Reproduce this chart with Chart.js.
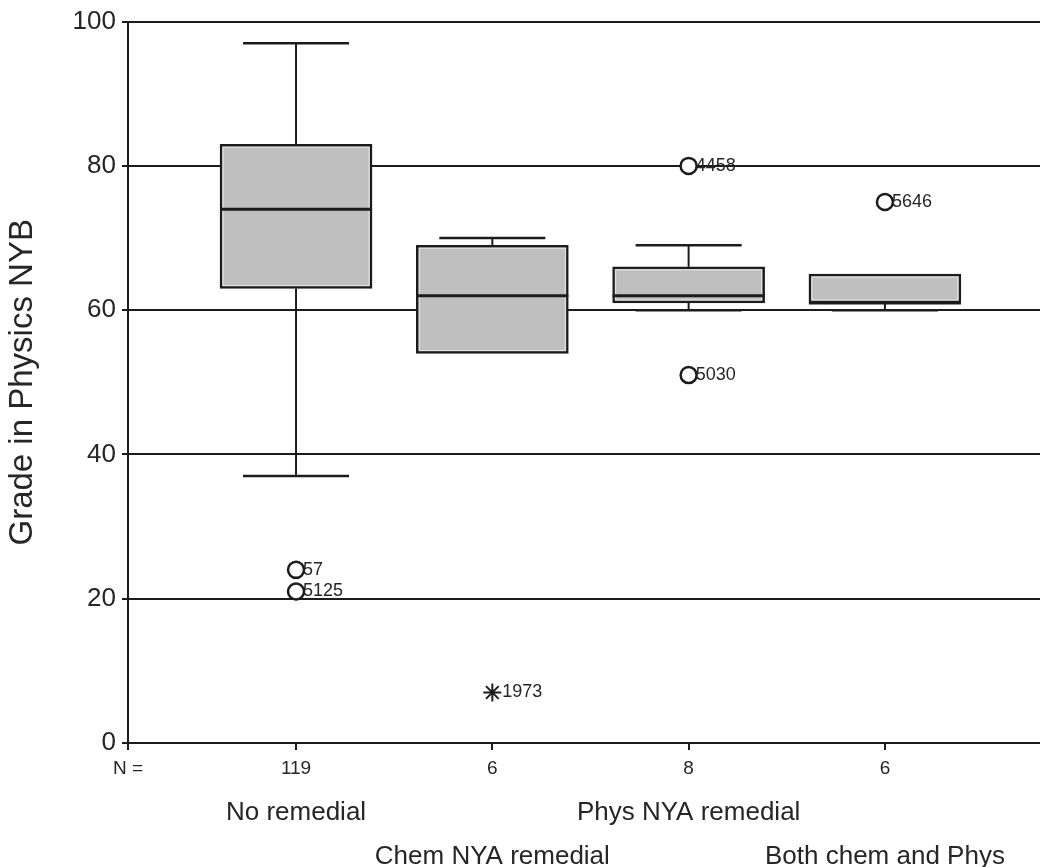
<!DOCTYPE html>
<html>
<head>
<meta charset="utf-8">
<title>Grade in Physics NYB by remedial course</title>
<script src="https://cdn.jsdelivr.net/npm/chart.js@4.4.1/dist/chart.umd.min.js"></script>
<style>
  html, body { margin: 0; padding: 0; background: #ffffff; }
  #wrap { position: relative; width: 1040px; height: 867px; }
</style>
</head>
<body>
<div id="wrap"><canvas id="chart"></canvas></div>
<script>
// ---- data ----
const groups = ['No remedial', 'Chem NYA remedial', 'Phys NYA remedial', 'Both chem and Phys'];
const counts = [119, 6, 8, 6];
const lowWhisker = [37, 54, 60, 60];
const q1 = [63, 54, 61, 61];
const median = [74, 62, 62, 61];
const q3 = [83, 69, 66, 65];
const highWhisker = [97, 70, 69, 65];
// outliers (circles): group number, grade, case id
const outlierGroup = [1, 1, 3, 3, 4];
const outlierValue = [24, 21, 80, 51, 75];
const outlierCase = ['57', '5125', '4458', '5030', '5646'];
// extreme values (asterisks)
const extremeGroup = [2];
const extremeValue = [7];
const extremeCase = ['1973'];
const yTicks = [0, 20, 40, 60, 80, 100];

// ---- look ----
const INK = '#1c1c1c';
const TEXT = '#262626';
const FONT = "'Liberation Sans', Arial, Helvetica, sans-serif";
const X_MIN = 0.144, X_MAX = 4.79;   // category slots on a linear axis
const CAP_HALF = 0.27;               // whisker cap half-width, in slot units

Chart.defaults.font.family = FONT;
Chart.defaults.color = TEXT;

// keep the horizontal axes flush with the canvas edges
const noSidePadding = s => { s.paddingLeft = 0; s.paddingRight = 0; };

// whiskers, medians and case-id labels, placed through the chart's scales
const boxPlotParts = {
  id: 'boxPlotParts',
  beforeDatasetsDraw(chart) {
    const { ctx, scales: { x, y } } = chart;
    ctx.save();
    ctx.fillStyle = TEXT;
    ctx.font = '18px ' + FONT;
    ctx.textAlign = 'left';
    ctx.textBaseline = 'middle';
    outlierCase.forEach((id, i) => {
      ctx.fillText(id, x.getPixelForValue(outlierGroup[i]) + 7, y.getPixelForValue(outlierValue[i]));
    });
    extremeCase.forEach((id, i) => {
      ctx.fillText(id, x.getPixelForValue(extremeGroup[i]) + 10, y.getPixelForValue(extremeValue[i]));
    });
    ctx.restore();
  },
  afterDatasetsDraw(chart) {
    const { ctx, scales: { x, y } } = chart;
    const bars = chart.getDatasetMeta(0).data;
    ctx.save();
    ctx.lineCap = 'butt';
    const seg = (x0, y0, x1, y1, w) => {
      ctx.strokeStyle = INK;
      ctx.lineWidth = w;
      ctx.beginPath(); ctx.moveTo(x0, y0); ctx.lineTo(x1, y1); ctx.stroke();
    };
    groups.forEach((g, i) => {
      const v = i + 1;
      const cx = x.getPixelForValue(v);
      const cl = x.getPixelForValue(v - CAP_HALF);
      const cr = x.getPixelForValue(v + CAP_HALF);
      const yHi = y.getPixelForValue(highWhisker[i]);
      const yLo = y.getPixelForValue(lowWhisker[i]);
      const yQ1 = y.getPixelForValue(q1[i]);
      const yQ3 = y.getPixelForValue(q3[i]);
      const b = bars[i];
      const half = b.width / 2;
      // faint light rim just inside the box outline
      ctx.strokeStyle = '#e6e6e6';
      ctx.lineWidth = 1;
      ctx.strokeRect(b.x - half + 3, yQ3 + 3, b.width - 6, yQ1 - yQ3 - 6);
      if (highWhisker[i] > q3[i]) {
        seg(cx, yQ3, cx, yHi, 2);
        seg(cl, yHi, cr, yHi, 2.5);
      }
      if (lowWhisker[i] < q1[i]) {
        seg(cx, yQ1, cx, yLo, 2);
        seg(cl, yLo, cr, yLo, 2.5);
      }
      const yMed = y.getPixelForValue(median[i]);
      seg(b.x - half, yMed, b.x + half, yMed, 3);
    });
    ctx.restore();
  }
};

new Chart(document.getElementById('chart'), {
  type: 'bar',
  data: {
    datasets: [
      {
        type: 'bar',
        data: groups.map((g, i) => ({ x: i + 1, y: [q1[i], q3[i]] })),
        backgroundColor: '#bfbfbf',
        borderColor: INK,
        borderWidth: 2.5,
        borderSkipped: false,
        barThickness: 152,
        order: 2
      },
      {
        type: 'scatter',
        data: outlierGroup.map((g, i) => ({ x: g, y: outlierValue[i] })),
        pointStyle: 'circle',
        radius: 8,
        borderWidth: 2.5,
        borderColor: INK,
        backgroundColor: '#ffffff',
        order: 1
      },
      {
        type: 'scatter',
        data: extremeGroup.map((g, i) => ({ x: g, y: extremeValue[i] })),
        pointStyle: 'star',
        radius: 9,
        borderWidth: 2,
        borderColor: INK,
        backgroundColor: INK,
        order: 1
      }
    ]
  },
  options: {
    responsive: true,
    maintainAspectRatio: false,
    animation: false,
    devicePixelRatio: 1,
    layout: { autoPadding: false, padding: { top: 20, right: 0, bottom: 0, left: 0 } },
    plugins: {
      legend: { display: false },
      tooltip: { enabled: false }
    },
    scales: {
      x: {
        type: 'linear',
        position: 'bottom',
        min: X_MIN,
        max: X_MAX,
        bounds: 'data',
        offset: false,
        weight: 1,
        afterBuildTicks: s => { s.ticks = [{ value: X_MIN }].concat(counts.map((c, i) => ({ value: i + 1 }))); },
        ticks: {
          autoSkip: false,
          maxRotation: 0,
          padding: 7,
          color: TEXT,
          font: { size: 19 },
          callback: v => (v === X_MIN ? 'N =' : String(counts[v - 1]))
        },
        grid: { drawOnChartArea: false, offset: false, color: INK, lineWidth: 2, tickLength: 7 },
        border: { color: INK, width: 2 },
        afterFit: s => { s.height = 40; noSidePadding(s); }
      },
      names: {
        type: 'linear',
        axis: 'x',
        position: 'bottom',
        min: X_MIN,
        max: X_MAX,
        bounds: 'data',
        offset: false,
        weight: 2,
        afterBuildTicks: s => { s.ticks = groups.map((g, i) => ({ value: i + 1 })); },
        ticks: {
          autoSkip: false,
          maxRotation: 0,
          padding: 0,
          color: TEXT,
          font: { size: 26, lineHeight: 44 / 26 },
          callback: v => (v % 2 === 1 ? [groups[v - 1], ''] : ['', groups[v - 1]])
        },
        grid: { display: false, offset: false },
        border: { display: false },
        afterFit: s => { s.height = 84; noSidePadding(s); }
      },
      y: {
        type: 'linear',
        min: 0,
        max: 100,
        afterBuildTicks: s => { s.ticks = yTicks.map(v => ({ value: v })); },
        ticks: { color: TEXT, font: { size: 26 }, padding: 6 },
        grid: { color: INK, lineWidth: 2, tickLength: 6 },
        border: { color: INK, width: 2 },
        title: {
          display: true,
          text: 'Grade in Physics NYB',
          color: TEXT,
          font: { size: 33 },
          padding: { top: 3, bottom: 0 }
        },
        afterFit: s => { s.width = 128; }
      }
    }
  },
  plugins: [boxPlotParts]
});
</script>
</body>
</html>
